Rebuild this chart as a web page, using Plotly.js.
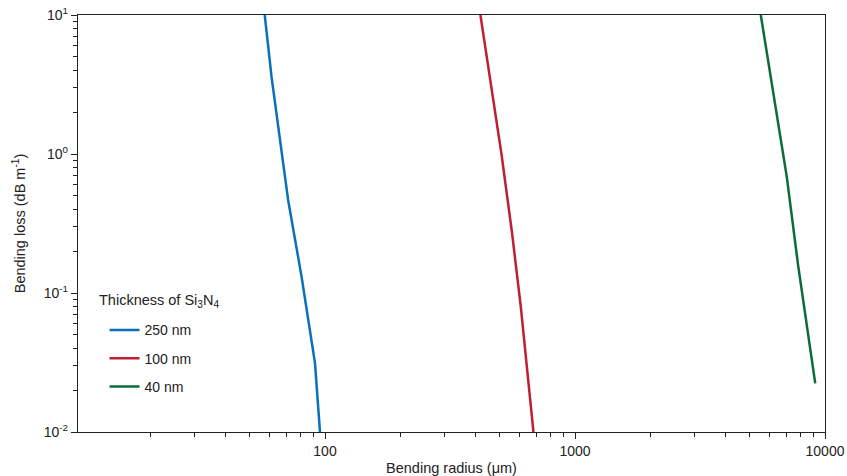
<!DOCTYPE html>
<html>
<head>
<meta charset="utf-8">
<script src="https://cdn.plot.ly/plotly-3.0.1.min.js"></script>
<style>html,body{margin:0;padding:0;background:#fff;}#chart{width:847px;height:476px;}</style>
</head>
<body>
<div id="chart"></div>
<script>
// Bending radius (µm) vs bending loss (dB/m)
const names = ["250 nm", "100 nm", "40 nm"];
const colors = ["#0a70b8", "#c01f30", "#0d6b3b"];
const r250 = [57.4, 61.1, 71.2, 80.6, 91.2, 95.5];
const l250 = [10, 3.6, 0.467, 0.131, 0.0313, 0.0100];
const r100 = [418.5, 460, 508, 560, 607, 682];
const l100 = [10, 3.3, 1.0, 0.27, 0.0796, 0.0100];
const r40 = [5535, 6200, 6550, 7031, 7800, 9140];
const l40 = [10, 2.9, 1.5, 0.687, 0.16, 0.0224];
const xTickVals = [100, 1000, 10000];
const xTickText = ["100", "1000", "10000"];
const xMinorVals = [20, 30, 40, 50, 60, 70, 80, 90, 200, 300, 400, 500, 600, 700, 800, 900,
                    2000, 3000, 4000, 5000, 6000, 7000, 8000, 9000];
const yTickVals = [0.01, 0.1, 1, 10];
const yTickText = ["10<sup>-2</sup>", "10<sup>-1</sup>", "10<sup>0</sup>", "10<sup>1</sup>"];
const yMinorVals = [0.02, 0.03, 0.04, 0.05, 0.06, 0.07, 0.08, 0.09, 0.2, 0.3, 0.4, 0.5, 0.6, 0.7, 0.8, 0.9,
                    2, 3, 4, 5, 6, 7, 8, 9];
const legendTitle = "Thickness of Si<sub>3</sub>N<sub>4</sub>";

const xs = [r250, r100, r40];
const ys = [l250, l100, l40];
const traces = names.map((n, i) => ({
  x: xs[i], y: ys[i], name: n, type: "scatter", mode: "lines",
  line: {color: colors[i], width: 2.5}, legendgroup: "g" + i, hoverinfo: "skip"
}));

const font = {family: "Liberation Sans, Arial, sans-serif", size: 14, color: "#222"};
const titleFont = {family: "Liberation Sans, Arial, sans-serif", size: 14.5, color: "#222"};
const layout = {
  width: 847, height: 476,
  margin: {l: 78, r: 22, t: 15, b: 44},
  paper_bgcolor: "#fff", plot_bgcolor: "#fff",
  font: font,
  showlegend: true,
  legend: {
    x: 0.0355, y: 0.282, xanchor: "left", yanchor: "top",
    bgcolor: "rgba(0,0,0,0)", borderwidth: 0,
    font: font, tracegroupgap: 7, traceorder: "grouped", itemwidth: 30
  },
  annotations: [{
    text: legendTitle, xref: "paper", yref: "paper", x: 0.025, y: 0.341,
    xanchor: "left", yanchor: "top", showarrow: false, font: titleFont
  }],
  xaxis: {
    type: "log", range: [1.012, 4], showgrid: false, zeroline: false,
    showline: true, linecolor: "#222", linewidth: 1.2, mirror: true,
    ticks: "outside", ticklen: 6, tickcolor: "#222",
    tickmode: "array", tickvals: xTickVals, ticktext: xTickText, tickfont: font,
    minor: {tickmode: "array", tickvals: xMinorVals, ticks: "outside", ticklen: 4, tickcolor: "#222", showgrid: false},
    title: {text: "Bending radius (μm)", font: titleFont, standoff: 4}
  },
  yaxis: {
    type: "log", range: [-2, 1], showgrid: false, zeroline: false,
    showline: true, linecolor: "#222", linewidth: 1.2, mirror: true,
    ticks: "outside", ticklen: 6, tickcolor: "#222",
    tickmode: "array", tickvals: yTickVals, ticktext: yTickText, tickfont: font,
    minor: {tickmode: "array", tickvals: yMinorVals, ticks: "outside", ticklen: 4, tickcolor: "#222", showgrid: false},
    title: {text: "Bending loss (dB m<sup>-1</sup>)", font: titleFont, standoff: 14}
  }
};
Plotly.newPlot("chart", traces, layout, {displayModeBar: false, staticPlot: true});
</script>
</body>
</html>
